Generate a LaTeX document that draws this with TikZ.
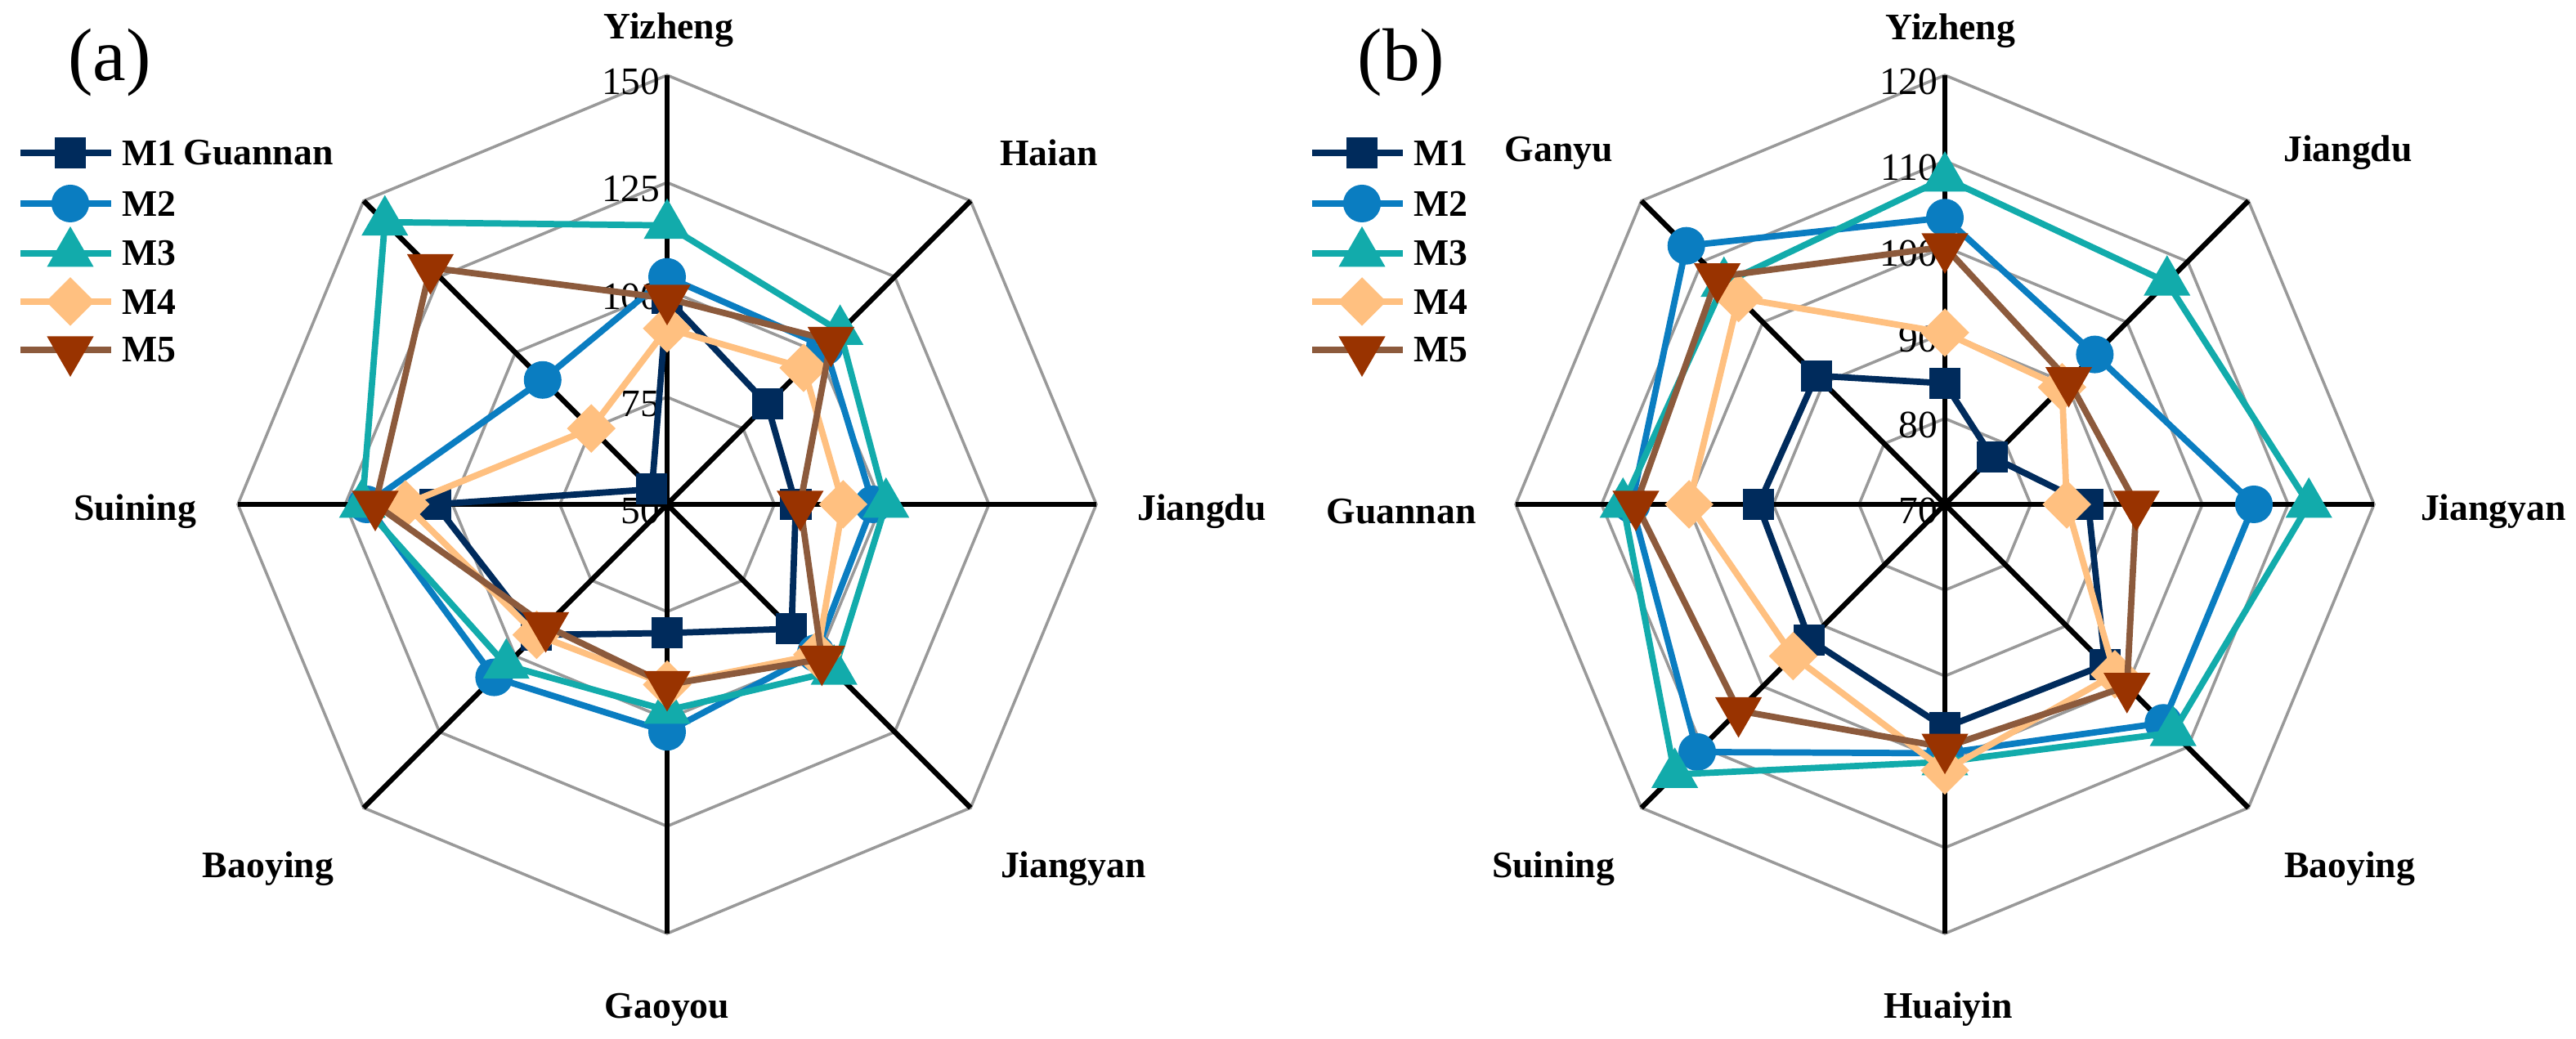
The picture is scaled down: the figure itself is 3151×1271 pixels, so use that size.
\documentclass[tikz,border=0pt]{standalone}
\usepackage{fontspec}
\setmainfont{Liberation Serif}
\usetikzlibrary{shapes.geometric}
\definecolor{cA}{HTML}{002B5C}
\definecolor{cB}{HTML}{0A7DC1}
\definecolor{cC}{HTML}{12ABAB}
\definecolor{cD}{HTML}{FFC080}
\definecolor{cE}{HTML}{8C5A3C}
\definecolor{cEm}{HTML}{993300}
\definecolor{gridc}{HTML}{999999}
\begin{document}
\begin{tikzpicture}[x=0.01cm,y=0.01cm,
 lab/.style={font=\fontsize{13}{15}\selectfont\bfseries},
 tick/.style={font=\fontsize{13.5}{16}\selectfont,anchor=east,inner sep=0},
 panel/.style={font=\fontsize{26}{30}\selectfont},
 gridl/.style={gridc,line width=1pt},
 axisl/.style={black,line width=1.8pt},
 mk1/.style={fill=cA,rectangle,minimum size=0.38cm,inner sep=0},
 mk2/.style={fill=cB,circle,minimum size=0.46cm,inner sep=0},
 mk3/.style={fill=cC,regular polygon,regular polygon sides=3,minimum size=0.66cm,inner sep=0},
 mk4/.style={fill=cD,diamond,minimum size=0.6cm,inner sep=0},
 mk5/.style={fill=cEm,regular polygon,regular polygon sides=3,shape border rotate=180,minimum size=0.66cm,inner sep=0},
 ln1/.style={cA,line width=2.2pt},
 ln2/.style={cB,line width=2.2pt},
 ln3/.style={cC,line width=2.2pt},
 ln4/.style={cD,line width=2.2pt},
 ln5/.style={cE,line width=2.2pt},
 lt/.style={lab,anchor=west,inner sep=0}]
\useasboundingbox (0,0) rectangle (3151,1271);

% ---------- panel (a) ----------
\begin{scope}[shift={(816,654)}]
\foreach \k in {1,...,4}{
  \draw[gridl] (90:\k*131.25) -- (45:\k*131.25) -- (0:\k*131.25) -- (-45:\k*131.25) -- (-90:\k*131.25) -- (-135:\k*131.25) -- (180:\k*131.25) -- (135:\k*131.25) -- cycle;}
\coordinate (ac) at (0,0);
\foreach \a [count=\j] in {90,45,0,-45,-90,-135,180,135}{
  \coordinate (aax\j) at (\a:525);
  \draw[axisl] (ac) -- (aax\j);}
\foreach \v [count=\k from 0] in {50,75,100,125,150}
  \node[tick] (at\k) at (-8,\k*131.25-8) {\v};
\foreach \s/\vals in {1/{98,83,80,91,80,93,104,55},
                      2/{103,102,98,99,103,107,120,91},
                      3/{115,107,101,105,98,103,121,143},
                      4/{91,95,91,99.5,92,93,111,75},
                      5/{98,104,81,101,92,90,118,128}}{
  \foreach \v [count=\i] in \vals {
    \pgfmathsetmacro\r{(\v-50)/100*525}
    \coordinate (a\s p\i) at ({90-45*(\i-1)}:\r);}
  \draw[ln\s] (a\s p1) -- (a\s p2) -- (a\s p3) -- (a\s p4) -- (a\s p5) -- (a\s p6) -- (a\s p7) -- (a\s p8) -- cycle;
  \foreach \i in {1,...,8} \node[mk\s] (a\s m\i) at (a\s p\i) {};
}
\end{scope}
\node[lab] (aY) at (818,1234) {Yizheng};
\node[lab] (aH) at (1283,1084) {Haian};
\node[lab] (aJd) at (1470,645) {Jiangdu};
\node[lab] (aJy) at (1313,208) {Jiangyan};
\node[lab] (aG) at (816,36) {Gaoyou};
\node[lab] (aB) at (328,208) {Baoying};
\node[lab] (aS) at (165,645) {Suining};
\node[lab] (aGn) at (316,1084) {Guannan};
\node[panel] (pa) at (134,1194) {(a)};

% ---------- panel (b) ----------
\begin{scope}[shift={(2379,654)}]
\foreach \k in {1,...,5}{
  \draw[gridl] (90:\k*105) -- (45:\k*105) -- (0:\k*105) -- (-45:\k*105) -- (-90:\k*105) -- (-135:\k*105) -- (180:\k*105) -- (135:\k*105) -- cycle;}
\coordinate (bc) at (0,0);
\foreach \a [count=\j] in {90,45,0,-45,-90,-135,180,135}{
  \coordinate (bax\j) at (\a:525);
  \draw[axisl] (bc) -- (bax\j);}
\foreach \v [count=\k from 0] in {70,80,90,100,110,120}
  \node[tick] (bt\k) at (-8,\k*105-8) {\v};
\foreach \s/\vals in {1/{84.1,77.8,86.7,96.4,96,92.3,91.7,91.2},
                      2/{103.4,94.7,106,106,99,110.8,106.5,112.6},
                      3/{108,106.6,112.4,107.6,100,114.5,107.5,106.4},
                      4/{90,89.3,84.2,98,101,95,99.8,104},
                      5/{100,90.4,92.3,100,98.3,104,106,107.5}}{
  \foreach \v [count=\i] in \vals {
    \pgfmathsetmacro\r{(\v-70)/50*525}
    \coordinate (b\s p\i) at ({90-45*(\i-1)}:\r);}
  \draw[ln\s] (b\s p1) -- (b\s p2) -- (b\s p3) -- (b\s p4) -- (b\s p5) -- (b\s p6) -- (b\s p7) -- (b\s p8) -- cycle;
  \foreach \i in {1,...,8} \node[mk\s] (b\s m\i) at (b\s p\i) {};
}
\end{scope}
\node[lab] (bY) at (2386,1233) {Yizheng};
\node[lab] (bJd) at (2872,1084) {Jiangdu};
\node[lab] (bJy) at (3050,645) {Jiangyan};
\node[lab] (bB) at (2874,208) {Baoying};
\node[lab] (bH) at (2383,36) {Huaiyin};
\node[lab] (bS) at (1900,208) {Suining};
\node[lab] (bGn) at (1714,645) {Guannan};
\node[lab] (bGy) at (1907,1084) {Ganyu};
\node[panel] (pb) at (1714,1194) {(b)};

% ---------- legends ----------
\foreach \p/\x in {a/0,b/1580}{
  \foreach \s/\yy in {1/1084,2/1022,3/961,4/902,5/843}{
    \coordinate (\p l\s s) at (\x+25,\yy);
    \coordinate (\p l\s e) at (\x+136,\yy);
    \draw[ln\s] (\p l\s s) -- (\p l\s e);
    \node[mk\s] (\p l\s m) at (\x+86,\yy) {};
    \node[lt] (\p l\s t) at (\x+149,\yy) {M\s};
  }
}
\end{tikzpicture}
\end{document}
